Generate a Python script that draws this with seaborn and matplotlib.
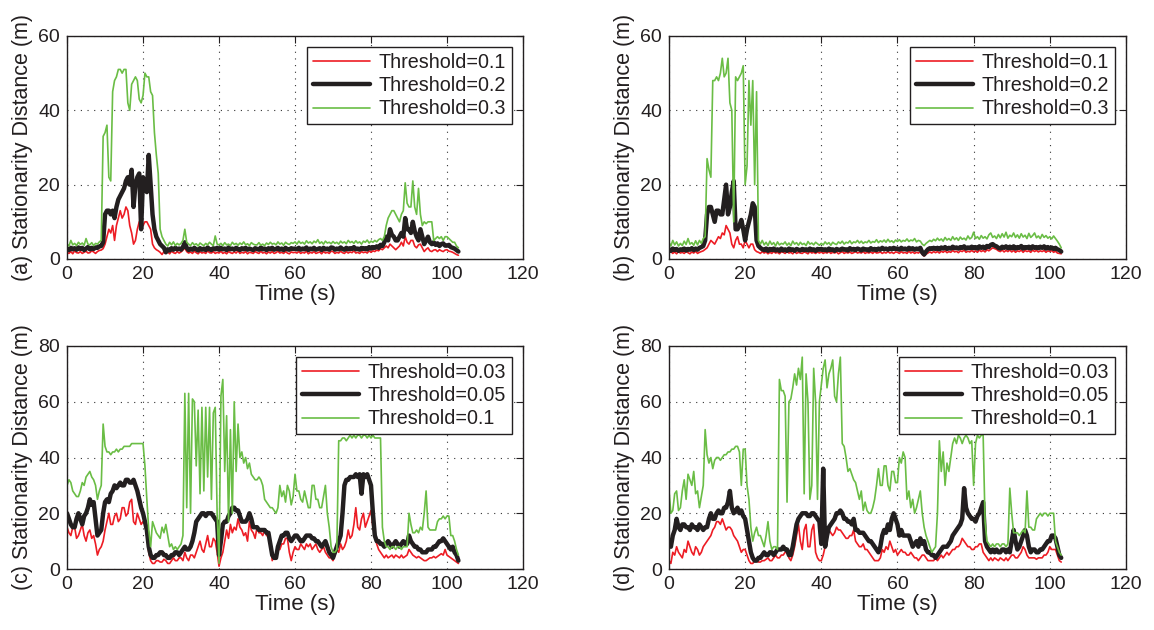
import numpy as np
import pandas as pd
import matplotlib
matplotlib.use("Agg")
import matplotlib.pyplot as plt
import seaborn as sns

# ---------------- data (sample every 0.5 s, 0 .. 103 s) ----------------
time_s = np.arange(0, 103.5, 0.5)

# panel (a)
a_thr01 = [1.8,1.5,2.0,1.4,2.2,1.7,1.6,2.0,1.5,1.8,2.1,1.6,1.7,2.2,1.9,1.5,2.0,2.3,2.4,2.8,
           4,6,8,7,9,5,9,11,13,11,12,14,13,9,7,4,5,8,10,10,
           9,10,10,9,8,4,3,2.5,2.2,1.8,1.2,2.0,1.6,1.9,1.4,2.1,1.7,1.5,2.0,1.6,
           1.9,2.4,3.0,2.0,1.6,1.9,1.5,2.1,1.7,1.4,2.0,1.6,1.8,1.5,2.2,1.7,1.6,2.0,1.5,1.8,
           1.6,2.1,1.5,1.8,1.4,2.0,1.7,1.5,1.9,1.6,2.2,1.5,1.8,1.6,2.0,1.4,1.8,1.7,1.5,2.0,
           1.7,1.5,2.1,1.6,1.8,1.4,1.9,1.6,2.0,1.5,1.7,2.1,1.6,1.8,1.5,2.0,1.6,1.4,1.9,1.7,
           1.8,1.6,2.0,1.5,1.8,1.6,2.1,1.4,1.8,1.6,2.0,1.5,1.7,1.9,1.4,2.0,1.6,1.8,1.5,2.1,
           2.0,1.5,1.8,1.6,2.1,1.7,1.5,2.0,1.6,1.9,1.7,2.2,1.6,1.8,1.5,2.0,1.7,1.9,1.6,2.2,
           1.8,2.2,2.0,2.4,2.2,2.8,2.5,3.0,3.5,3.0,4.0,3.5,3.0,2.5,3.0,3.5,4.5,3.5,6.0,4.5,
           4.0,5.0,5.0,3.5,3.0,3.8,4.0,3.0,2.0,2.6,3.0,2.2,2.0,2.4,2.5,2.0,2.5,2.2,2.0,2.4,
           2.5,2.1,2.0,1.8,1.5,1.2,1.0]
a_thr02 = [2.8,2.4,3.0,2.6,2.9,2.5,3.1,2.7,3.0,2.4,2.8,3.2,2.6,3.0,2.7,3.1,3.0,3.4,3.5,4.5,
           12,13,13,12,13,11,14,16,17,18,19,21,22,20,24,14,20,22,23,8,
           22,20,18,28,20,12,8,6,5,4,3.5,3,1.8,2.6,2.3,2.9,2.5,3.0,2.6,2.8,
           2.5,3.2,4.5,3.0,2.4,2.8,2.5,3.0,2.6,2.3,2.9,2.5,2.8,2.4,3.1,2.6,2.4,2.9,2.6,3.0,
           2.5,3.0,2.6,2.8,2.4,3.1,2.6,2.8,2.5,3.0,2.7,2.4,2.9,2.6,3.0,2.5,2.8,2.6,2.4,2.9,
           2.7,2.5,3.1,2.6,2.8,2.4,2.9,2.6,3.0,2.5,2.7,3.0,2.5,2.8,2.4,3.0,2.6,2.5,2.9,2.7,
           2.8,2.6,3.0,2.5,2.8,2.6,3.1,2.4,2.8,2.6,3.0,2.5,2.7,2.9,2.4,3.0,2.6,2.8,2.5,3.1,
           3.0,2.5,2.8,2.6,3.1,2.7,2.5,3.0,2.6,2.9,2.7,3.2,2.6,2.8,2.5,3.0,2.7,2.9,2.6,3.2,
           2.8,3.2,3.0,3.4,3.0,3.8,3.5,4.5,6.0,5.0,8.0,6.5,6.0,5.0,5.0,6.0,7.0,6.0,11.0,8.0,
           8.0,7.0,10.0,7.5,6.0,5.0,8.0,6.0,4.0,5.0,6.0,4.5,4.0,4.5,3.8,4.2,3.5,4.0,4.2,3.6,
           3.6,3.8,3.2,3.0,2.8,2.4,2.0]
a_thr03 = [4.0,3.5,5.0,3.8,4.2,3.6,4.5,3.9,4.3,3.7,5.5,4.0,3.8,4.4,3.6,4.2,4.0,4.6,5.0,33,
           34,36,22,21,45,48,49,51,51,50,51,51,42,40,47,48,49,48,43,42,
           44,50,49,49,45,44,34,28,23,8,6,5,4.0,3.5,4.5,3.8,4.6,3.6,4.2,3.8,
           4.2,5.0,8.0,4.5,4.0,3.6,4.4,3.8,4.1,3.5,4.3,3.9,3.6,4.2,3.8,4.5,4.0,3.6,6.2,4.0,
           3.8,4.2,3.6,4.4,3.8,4.0,3.6,4.5,3.9,4.2,3.7,4.3,3.9,4.6,3.8,4.1,3.6,4.4,4.0,3.8,
           3.8,4.4,3.7,4.0,3.6,4.3,3.9,4.5,4.0,4.2,3.8,4.6,4.0,4.3,3.7,4.5,4.1,3.9,4.4,4.2,
           4.6,4.0,4.8,4.2,4.5,4.0,4.9,4.3,4.6,4.1,4.8,4.4,5.2,4.2,4.6,4.0,4.8,4.3,4.5,4.1,
           4.7,4.2,4.5,4.0,4.8,4.3,4.6,4.1,5.0,4.4,4.7,4.2,4.9,4.3,4.6,4.0,4.8,4.5,5.1,4.3,
           4.8,4.5,5.0,4.6,5.2,5.5,5.0,6.0,9.0,11.0,12.0,13.0,13.0,12.0,11.0,10.0,12.0,13.0,20.5,15.0,
           14.0,14.0,21.0,14.0,12.0,19.0,12.0,9.0,10.0,9.5,10.0,10.0,10.0,5.0,5.5,6.0,5.5,6.0,5.0,6.0,
           6.0,5.5,5.0,4.5,4.5,3.5,3.0]

# panel (b)
b_thr01 = [1.6,2.0,1.5,1.9,1.4,2.0,1.6,1.8,1.5,2.0,1.7,1.4,1.9,1.6,2.1,1.5,1.8,2.0,2.2,2.6,
           3.0,4.0,5.0,4.5,4.0,5.0,6.0,5.5,7.0,6.5,9.0,8.0,7.0,4.0,3.0,5.0,6.0,4.0,4.0,3.0,
           5.0,4.0,3.0,4.0,4.0,2.5,2.0,1.8,1.5,2.0,1.6,1.9,1.4,1.8,1.5,2.0,1.6,1.8,1.4,1.9,
           1.8,1.5,2.0,1.6,1.8,1.4,2.0,1.5,1.8,1.6,1.5,1.9,1.7,1.4,2.0,1.6,1.8,1.5,1.9,1.6,
           1.9,1.5,1.8,1.6,2.0,1.5,1.8,1.6,1.9,1.4,1.7,2.0,1.5,1.8,1.6,1.9,1.5,1.7,2.0,1.6,
           1.8,1.6,2.0,1.5,1.8,1.6,1.9,1.5,2.0,1.6,1.7,1.9,1.5,1.8,1.6,2.0,1.6,1.8,1.5,1.9,
           1.8,1.5,2.0,1.6,1.8,1.5,2.1,1.6,1.9,1.5,1.8,1.6,2.0,1.2,0.8,1.3,1.6,1.9,1.6,2.0,
           1.7,2.0,1.6,2.1,1.8,2.2,1.7,2.0,1.8,2.3,1.9,2.1,1.7,2.2,2.0,2.4,1.8,2.1,1.9,2.3,
           1.9,2.2,1.8,2.4,2.0,2.3,1.9,2.5,2.2,2.6,3.0,2.8,2.6,2.2,2.0,2.4,1.9,2.3,2.0,2.4,
           1.9,2.3,1.8,2.2,2.0,2.4,1.8,2.3,2.0,2.2,1.8,2.4,2.0,2.3,1.9,2.2,2.0,2.3,1.8,2.2,
           2.0,2.3,1.8,2.1,1.6,1.5,1.4]
b_thr02 = [2.6,2.2,2.8,2.4,2.7,2.2,2.6,2.4,2.8,2.3,2.7,2.5,2.9,2.4,2.8,2.5,3.0,3.2,3.5,5.0,
           12,14,14,12,10,13,13,12,12,16,20,12,14,18,21,8,8,9,10.5,8,
           5,8,10,12,15,14,5,3.5,3.0,2.6,2.4,2.8,2.2,2.7,2.4,2.8,2.3,2.6,2.2,2.8,
           2.3,2.6,2.2,2.8,2.4,2.6,2.2,2.7,2.5,2.3,2.7,2.4,2.6,2.3,2.8,2.4,2.6,2.2,2.7,2.5,
           2.7,2.4,2.6,2.3,2.8,2.4,2.6,2.2,2.7,2.5,2.4,2.8,2.5,2.6,2.3,2.9,2.5,2.7,2.4,2.8,
           2.6,2.3,2.8,2.5,2.6,2.3,2.9,2.5,2.7,2.4,2.8,2.5,3.0,2.6,2.8,2.5,2.9,2.6,3.0,2.7,
           2.8,2.5,3.0,2.6,2.8,2.5,3.0,2.6,2.9,2.5,2.8,2.6,3.0,1.8,1.2,2.0,2.6,2.9,2.7,3.0,
           2.7,3.0,2.6,3.1,2.8,3.2,2.7,3.0,2.8,3.3,2.9,3.1,2.8,3.2,3.0,3.4,2.8,3.1,2.9,3.3,
           2.9,3.2,2.8,3.4,3.0,3.3,2.9,3.5,3.2,3.8,4.0,3.6,3.4,3.0,2.8,3.3,3.0,3.4,2.9,3.3,
           2.9,3.4,2.8,3.2,3.0,3.5,2.8,3.2,3.0,3.3,2.8,3.4,3.0,3.2,2.9,3.3,3.0,3.4,2.8,3.2,
           2.8,3.1,2.7,3.0,2.6,2.4,2.0]
b_thr03 = [4.5,3.5,5.0,3.8,4.6,3.5,4.2,3.6,4.8,3.9,5.5,4.0,4.4,3.7,4.9,3.8,5.0,4.2,5.5,6.0,
           27,24,22,48,48,49,48,50,54,49,50,54,42,40,10,49,48,49,50,52,
           20,25,48,36,48,20,45,5,4.0,5.0,3.8,4.5,3.6,4.8,3.9,4.4,3.5,4.6,3.8,4.2,
           4.0,4.6,3.7,4.3,3.6,4.8,4.0,4.4,3.7,4.5,3.9,4.2,3.6,4.7,4.0,4.3,3.8,4.5,4.1,3.7,
           4.2,3.8,4.6,4.0,4.4,3.7,4.5,4.1,3.9,4.6,4.2,4.8,4.0,4.5,4.3,4.9,4.1,4.6,4.4,5.0,
           4.3,4.8,4.2,4.6,4.4,5.0,4.3,4.7,4.5,5.2,4.4,4.9,4.6,5.1,4.5,5.3,4.6,4.9,4.4,5.1,
           4.7,5.2,4.6,5.0,4.8,5.4,4.7,5.1,4.9,5.5,4.6,5.0,4.8,4.0,3.6,4.2,4.6,5.0,4.7,5.3,
           4.9,5.6,5.0,5.4,4.8,5.8,5.1,5.5,5.0,6.0,5.2,5.7,5.0,5.9,5.3,5.6,5.1,6.2,5.4,5.8,
           7.2,5.5,6.0,5.3,6.3,5.6,6.0,5.4,6.5,7.0,5.8,6.2,5.5,6.6,5.7,6.8,5.9,7.2,5.6,6.4,
           6.0,7.0,5.8,6.5,5.6,6.8,5.9,6.4,5.5,6.9,5.8,6.3,7.0,5.7,6.2,5.5,6.6,5.8,6.3,5.6,
           6.0,5.4,6.2,5.5,4.8,4.0,3.0]

# panel (c)
c_thr003 = [15,13,12,15,15,11,12,14,16,12,10,13,14,11,12,9,5,7,8,10,
            14,17,20,16,16,19,20,17,18,22,22,19,20,24,25,17,16,20,18,16,
            17,16,12,6,3,2,2,3,3,2.5,2.5,3.5,3,2,2,3,4,3,3,4,
            4,3,6,4,3,5,5,4,6,8,10,7,6,9,12,8,8,11,10,6,
            1,4,6,10,14,11,16,13,15,14,18,15,14,12,13,10,17,14,13,11,
            15,13,13,12,14,12,12,9,3,5,5,7,7,9,9,11,11,6,3,6,
            8,7,7,9,8,7,9,8,9,7,8,9,7,6,7,8,6,5,4,4,
            3,5,7,6,9,7,8,10,14,11,12,16,22,15,14,18,20,15,17,19,
            21,15,12,9,7,6,5,4,5,4,4.5,5,4,5,4.5,4,5,4,4.5,5,
            7,6,5,4.5,4,4.5,4,3.5,3,3,3.5,4,4,4.5,4,4.5,5,5.5,5,7,
            5,4.5,4,3.5,3,2.5,2]
c_thr005 = [20,18,16,15,15,18,20,18,16,19,20,22,25,23,24,18,12,13,14,20,
            24,25,24,27,28,30,29,30,31,30,30,32,32,31,31,32,30,28,25,22,
            20,17,14,8,5,4,4,5,5,6,6,5,5,4,4,5,5,6,6,5,
            6,7,8,7,7,8,10,13,17,18,19,20,20,19,20,20,20,19,18,17,
            5,10,16,17,17,19,20,22,22,21,21,19,17,17,17,18,20,18,15,15,
            15,14,14,14,14,13,13,9,5,4,4,8,10,12,12,13,13,11,10,11,
            12,12,11,10,10,11,12,12,12,11,11,10,10,9,8,9,10,8,6,5,
            4,6,8,10,12,20,30,32,32,33,33,33,34,33,34,27,34,33,34,32,
            30,20,12,10,10,9,9,8,9,10,9,8,9,10,9,8,9,10,9,9,
            12,10,9,8,8,7,7,6,6,6,7,7,7,8,8,9,10,10,11,10,
            9,8,7,8,6,5,3]
c_thr01 = [30,32,31,28,27,26,26,28,31,30,33,34,35,33,32,30,25,28,30,52,
           44,42,42,41,42,42,43,42,43,43,44,44,44,44,45,45,45,45,45,45,
           45,37,25,14,8,17,15,13,12,11,15,13,16,12,8,9,7,8,7,8,
           9,12,63,22,63,20,61,60,37,57,27,58,28,58,33,58,25,56,58,20,
           2,62,68,35,55,17,50,20,60,35,52,40,42,38,40,36,38,34,33,32,
           32,33,32,30,25,24,23,22,22,21,20,22,30,26,28,24,30,28,23,26,
           34,28,28,25,24,28,25,22,22,30,30,25,25,22,22,26,30,20,15,8,
           6,6,7,46,46,47,47,46,47,48,47,48,47,48,48,47,48,48,47,48,
           47,48,47,47,47,47,15,10,8,8,7,8,8,7,8,8,7,8,8,8,
           20,16,13,13,14,13,15,14,20,28,15,14,14,14,14,17,18,18,19,18,
           19,19,12,12,10,7,5]

# panel (d)
d_thr003 = [3,2,6,5,8,6,5,4,7,6,10,8,6,5,8,7,5,6,8,9,
            10,11,12,14,15,17,17,16,18,16,14,15,15,14,12,11,10,8,6,7,
            7,5,3,2,2,3,3,2.5,2.5,3,3,3.5,4,3,3,4,5,4,4,5,
            5,6,6,4,3,5,8,12,16,10,7,14,16,8,8,14,16,6,4,3,
            3,5,8,12,14,13,12,13,15,14,14,13,12,11,11,12,12,14,10,9,
            8,8,9,7,7,6,5,4,3,3,3,4,7,6,8,7,10,8,6,7,
            5,6,7,6,6,5,5,6,5,4,4,3,4,5,5,4,3,3,3,3,
            4,3,4,5,4,5,6,5,6,7,7,8,8,9,11,10,9,8,8,7,
            7,8,8,9,9,6,5,4,3,4,3,4,3.5,3,4,3.5,3,4,3,4,
            5,5,4,4,5,6,8,7,5,4,4,4,4,3.5,4,4,4,5,5,6,
            8,7,7,7,5,3,2.5]
d_thr005 = [10,8,12,14,18,15,14,16,16,15,15,14,16,15,15,14,16,15,14,15,
            15,18,20,18,18,20,21,20,20,22,22,24,28,22,20,21,22,20,21,19,
            18,14,10,6,4,3,3,4,4,5,6,5,5,6,6,5,6,7,7,7,
            8,7,7,5,5,8,12,16,18,19,20,20,20,19,19,20,20,19,18,17,
            9,36,8,12,15,16,17,18,20,20,21,20,18,18,17,17,16,18,14,14,
            13,13,13,12,11,10,10,9,8,7,6,8,12,14,13,16,14,18,20,18,
            16,12,14,12,12,12,12,10,8,9,10,8,11,9,10,7,6,6,5,5,
            4,5,6,7,8,8,8,9,10,12,13,14,15,16,18,29,22,20,19,18,
            18,17,19,20,22,24,10,8,7,6,7,6,7,6,6,7,7,6,7,6,
            10,14,10,7,8,10,12,14,12,8,6,7,7,6,6,7,7,8,9,10,
            10,12,12,11,8,5,4]
d_thr01 = [28,20,21,27,28,21,22,28,32,25,34,32,30,35,27,28,22,26,30,50,
           41,38,40,36,39,40,40,39,40,41,41,42,42,43,43,44,44,42,30,43,
           43,30,25,15,10,13,15,12,12,10,8,12,17,10,7,8,8,7,68,64,
           64,62,24,60,61,65,70,66,72,68,76,27,70,60,25,30,72,60,25,60,
           66,72,75,65,70,72,75,62,60,70,76,45,44,40,35,36,34,32,31,28,
           25,28,21,24,21,20,20,22,25,30,36,30,30,37,37,30,28,35,35,31,
           31,40,38,42,40,25,28,22,25,20,22,25,28,20,15,12,10,8,6,7,
           8,20,46,35,42,30,38,35,40,45,47,45,48,47,45,47,48,47,45,46,
           30,45,48,47,48,48,17,10,9,8,9,8,9,9,8,9,9,8,9,29,
           20,13,13,13,12,13,14,13,28,15,15,14,14,18,19,20,19,20,20,19,
           20,20,20,10,8,6,5]

panel_tags = ["(a)", "(b)", "(c)", "(d)"]
legend_labels = [["Threshold=0.1", "Threshold=0.2", "Threshold=0.3"],
                 ["Threshold=0.1", "Threshold=0.2", "Threshold=0.3"],
                 ["Threshold=0.03", "Threshold=0.05", "Threshold=0.1"],
                 ["Threshold=0.03", "Threshold=0.05", "Threshold=0.1"]]
panel_series = [[a_thr01, a_thr02, a_thr03],
                [b_thr01, b_thr02, b_thr03],
                [c_thr003, c_thr005, c_thr01],
                [d_thr003, d_thr005, d_thr01]]
y_max = [60, 60, 80, 80]
x_ticks = [0, 20, 40, 60, 80, 100, 120]

# ---------------- styling ----------------
sns.set_style("white")
plt.rcParams["font.family"] = ["Liberation Sans", "DejaVu Sans"]

colors = ["#ED1C24", "#231F20", "#6ABD45"]
widths = [1.2, 3.2, 1.2]

fig = plt.figure(figsize=(11.54, 6.30), dpi=100)
fig.patch.set_facecolor("white")
positions = [
    [0.0581, 0.5889, 0.3951, 0.3540],
    [0.5797, 0.5889, 0.3960, 0.3540],
    [0.0581, 0.0968, 0.3951, 0.3540],
    [0.5797, 0.0968, 0.3960, 0.3540],
]

for k in range(4):
    ax = fig.add_axes(positions[k])
    for s in range(3):
        df = pd.DataFrame({"t": time_s, "v": panel_series[k][s]})
        sns.lineplot(data=df, x="t", y="v", ax=ax, color=colors[s],
                     linewidth=widths[s], label=legend_labels[k][s],
                     estimator=None, sort=False)
    ax.set_xlim(0, 120)
    ax.set_ylim(0, y_max[k])
    ax.set_xticks(x_ticks)
    ax.set_yticks(np.arange(0, y_max[k] + 1, 20))
    ax.grid(True, color="#333333", linestyle=(0, (1, 5)), linewidth=0.8)
    ax.tick_params(direction="in", length=5, width=0.8, top=True, right=True,
                   labelsize=14, colors="#231F20", pad=5)
    for sp in ax.spines.values():
        sp.set_visible(True)
        sp.set_color("#231F20")
        sp.set_linewidth(1.0)
    ax.set_xlabel("Time (s)", fontsize=16, color="#231F20", labelpad=1)
    ax.set_ylabel(panel_tags[k] + " Stationarity Distance (m)", fontsize=15.5,
                  color="#231F20", labelpad=4)
    leg = ax.legend(loc="upper right", fontsize=14.2, frameon=True, fancybox=False,
                    edgecolor="#231F20", framealpha=1, handlelength=2.9,
                    borderaxespad=0.55, borderpad=0.3, labelspacing=0.22,
                    handletextpad=0.45)
    leg.get_frame().set_linewidth(1.0)
    for txt in leg.get_texts():
        txt.set_color("#231F20")

fig.savefig("out.png", dpi=100, facecolor="white")
